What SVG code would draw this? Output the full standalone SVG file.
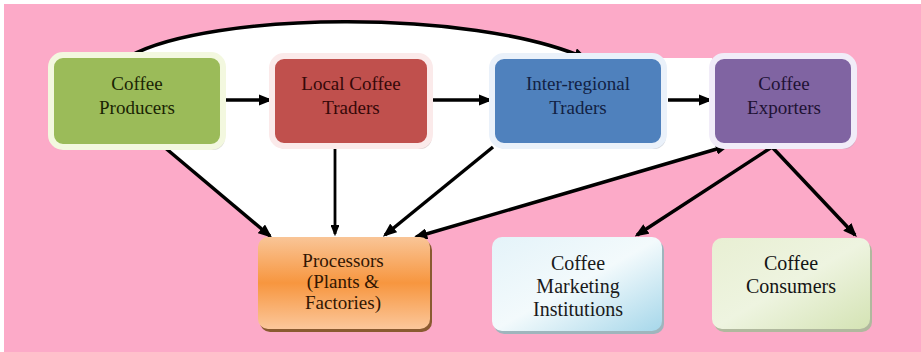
<svg xmlns="http://www.w3.org/2000/svg" width="921" height="352" viewBox="0 0 921 352">
<defs>
<style>
.t{font-family:"Liberation Serif","Times New Roman",serif;font-size:19px;text-anchor:middle}
.b{font-size:20px}
.c{fill:none;stroke:#000;stroke-width:3.5}
.bx{stroke-width:6}
</style>
<marker id="ah" viewBox="0 0 10 8" refX="8" refY="4" markerWidth="4" markerHeight="3.2" orient="auto-start-reverse">
<path d="M0,0 L10,4 L0,8 z" fill="#000"/>
</marker>
<linearGradient id="gOr" x1="0" y1="0" x2="0" y2="1">
<stop offset="0" stop-color="#F9C597"/>
<stop offset="0.5" stop-color="#F7963F"/>
<stop offset="1" stop-color="#FBC79B"/>
</linearGradient>
<linearGradient id="gBl" x1="0" y1="0" x2="1" y2="1">
<stop offset="0" stop-color="#E4F3F9"/>
<stop offset="0.5" stop-color="#F3FAFC"/>
<stop offset="1" stop-color="#A6D7EA"/>
</linearGradient>
<linearGradient id="gGr" x1="0" y1="0" x2="1" y2="1">
<stop offset="0" stop-color="#E8EFD3"/>
<stop offset="0.5" stop-color="#EEF4E0"/>
<stop offset="1" stop-color="#D4E3B4"/>
</linearGradient>
</defs>
<rect x="0" y="0" width="921" height="352" fill="#fff"/>
<rect x="4" y="4" width="917" height="348" fill="#FCAAC8"/>
<path d="M130,56 C210,12 470,8 585,58 L712,58 L724,148 L418,237 L270,237 L163,146 Z" fill="#fff"/>

<g id="connectors">
<path class="c" d="M130,56 C210,12 470,8 585,58" marker-end="url(#ah)"/>
<line class="c" x1="226" y1="100" x2="270" y2="100" marker-end="url(#ah)"/>
<line class="c" x1="433" y1="100" x2="490" y2="100" marker-end="url(#ah)"/>
<line class="c" x1="668" y1="100" x2="710" y2="100" marker-end="url(#ah)"/>
<line class="c" x1="163" y1="146" x2="270" y2="236" marker-end="url(#ah)"/>
<line class="c" x1="335" y1="148" x2="335" y2="234" style="stroke-width:2.8" marker-end="url(#ah)"/>
<line class="c" x1="493" y1="147" x2="385" y2="235" marker-end="url(#ah)"/>
<line class="c" x1="416" y1="237" x2="727" y2="146" marker-start="url(#ah)" marker-end="url(#ah)"/>
<line class="c" x1="772" y1="147" x2="637" y2="235" marker-end="url(#ah)"/>
<line class="c" x1="772" y1="147" x2="855" y2="235" marker-end="url(#ah)"/>
</g>

<g id="producers">
<rect x="53" y="58" width="172" height="92" rx="12" fill="#B9B9A8" opacity="0.5"/>
<rect class="bx" x="51" y="55" width="172" height="92" rx="12" fill="#9BBB59" stroke="#F3F8DF"/>
<text class="t" x="137" y="90" fill="#1A2404">Coffee</text>
<text class="t" x="137" y="114" fill="#1A2404">Producers</text>
</g>

<g id="local-traders">
<rect x="274" y="59" width="158" height="90" rx="12" fill="#C0A0A0" opacity="0.5"/>
<rect class="bx" x="272" y="56" width="158" height="90" rx="12" fill="#C0504D" stroke="#FBEAEA"/>
<text class="t" x="351" y="90" fill="#350808">Local Coffee</text>
<text class="t" x="351" y="114" fill="#350808">Traders</text>
</g>

<g id="inter-regional">
<rect x="494" y="59" width="172" height="90" rx="12" fill="#A0A8B8" opacity="0.5"/>
<rect class="bx" x="492" y="56" width="172" height="90" rx="12" fill="#4F81BD" stroke="#EAF1FA"/>
<text class="t" x="578" y="90" fill="#122244">Inter-regional</text>
<text class="t" x="578" y="114" fill="#122244">Traders</text>
</g>

<g id="exporters">
<rect x="714" y="59" width="142" height="90" rx="12" fill="#A8A0B8" opacity="0.5"/>
<rect class="bx" x="712" y="56" width="142" height="90" rx="12" fill="#8064A2" stroke="#F1ECF8"/>
<text class="t" x="784" y="90" fill="#1E1234">Coffee</text>
<text class="t" x="784" y="114" fill="#1E1234">Exporters</text>
</g>

<g id="processors">
<rect x="260" y="240" width="172" height="92" rx="10" fill="#8A5A30"/>
<rect x="258" y="237" width="172" height="92" rx="10" fill="url(#gOr)"/>
<text class="t" x="343" y="267" fill="#321602">Processors</text>
<text class="t" x="343" y="288" fill="#321602">(Plants &amp;</text>
<text class="t" x="343" y="309" fill="#321602">Factories)</text>
</g>

<g id="marketing">
<rect x="494" y="240" width="170" height="94" rx="10" fill="#9FB5BD"/>
<rect x="492" y="237" width="170" height="94" rx="10" fill="url(#gBl)"/>
<text class="t b" x="578" y="270" fill="#1A1A1A">Coffee</text>
<text class="t b" x="578" y="293" fill="#1A1A1A">Marketing</text>
<text class="t b" x="578" y="316" fill="#1A1A1A">Institutions</text>
</g>

<g id="consumers">
<rect x="714" y="241" width="158" height="91" rx="10" fill="#B0B89E"/>
<rect x="712" y="238" width="158" height="91" rx="10" fill="url(#gGr)"/>
<text class="t b" x="791" y="270" fill="#141414">Coffee</text>
<text class="t b" x="791" y="293" fill="#141414">Consumers</text>
</g>
</svg>
